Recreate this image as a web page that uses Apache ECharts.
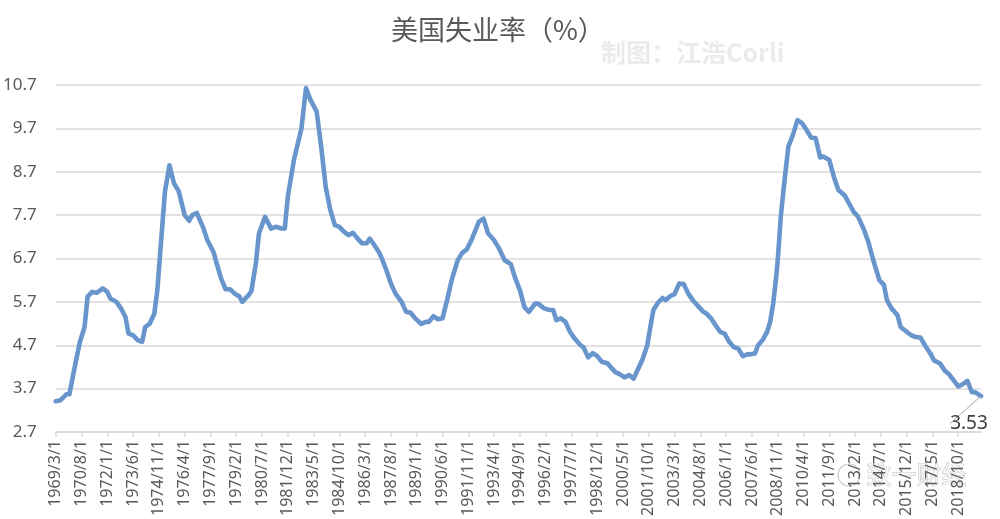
<!DOCTYPE html>
<html>
<head>
<meta charset="utf-8">
<script src="https://cdn.jsdelivr.net/npm/echarts@6/dist/echarts.min.js"></script>
<style>
html,body{margin:0;padding:0;background:#fff;}
#chart{width:1000px;height:519px;}
</style>
</head>
<body>
<div id="chart"></div>
<script>
// ---- data ----
var titleText = '美国失业率（%）';
var creditText = '制图：江浩Corli';
var stampText = '致一财经';

// monthly category axis: 1969/3/1 ... 2020/1/1
var firstYear = 1969, firstMonth = 3, monthCount = 611;

// y tick labels (gridlines every 1 point starting at 2.7)
var yTickLabels = ['2.7','3.7','4.7','5.7','6.7','7.7','8.7','9.7','10.7'];

var dates = [
 '1969/3/1','1969/6/1','1969/10/1','1969/12/1',
 '1970/4/1','1970/7/1','1970/10/1','1970/12/1',
 '1971/3/1','1971/6/1','1971/10/1',
 '1972/1/1','1972/3/1','1972/7/1','1972/10/1',
 '1973/1/1','1973/3/1','1973/6/1','1973/9/1','1973/12/1',
 '1974/2/1','1974/5/1','1974/8/1','1974/10/1','1974/12/1',
 '1975/3/1','1975/6/1','1975/9/1','1975/12/1',
 '1976/4/1','1976/7/1','1976/9/1','1976/12/1',
 '1977/4/1','1977/7/1','1977/11/1',
 '1978/1/1','1978/4/1','1978/7/1','1978/10/1',
 '1979/1/1','1979/4/1','1979/6/1','1979/10/1','1979/12/1',
 '1980/3/1','1980/5/1','1980/9/1',
 '1981/1/1','1981/4/1','1981/8/1','1981/10/1','1981/12/1',
 '1982/4/1','1982/9/1','1982/12/1',
 '1983/3/1','1983/7/1','1983/10/1',
 '1984/1/1','1984/4/1','1984/7/1','1984/10/1',
 '1985/1/1','1985/4/1','1985/7/1','1985/10/1',
 '1986/1/1','1986/4/1','1986/6/1','1986/9/1','1986/12/1',
 '1987/2/1','1987/5/1','1987/8/1','1987/11/1',
 '1988/3/1','1988/6/1','1988/9/1','1988/12/1',
 '1989/4/1','1989/7/1','1989/9/1','1989/12/1',
 '1990/3/1','1990/6/1','1990/9/1','1990/12/1',
 '1991/4/1','1991/7/1','1991/10/1',
 '1992/1/1','1992/6/1','1992/9/1','1992/12/1',
 '1993/4/1','1993/7/1','1993/11/1',
 '1994/3/1','1994/6/1','1994/9/1','1994/12/1',
 '1995/3/1','1995/7/1','1995/9/1',
 '1996/1/1','1996/4/1','1996/7/1','1996/9/1','1996/12/1',
 '1997/3/1','1997/6/1','1997/9/1',
 '1998/1/1','1998/3/1','1998/6/1','1998/9/1','1998/12/1',
 '1999/3/1','1999/7/1','1999/9/1','1999/12/1',
 '2000/3/1','2000/6/1','2000/9/1','2000/12/1',
 '2001/3/1','2001/6/1','2001/9/1','2001/11/1',
 '2002/1/1','2002/4/1','2002/7/1','2002/9/1','2002/12/1',
 '2003/3/1','2003/6/1','2003/9/1','2003/12/1',
 '2004/3/1','2004/6/1','2004/10/1','2004/12/1',
 '2005/3/1','2005/6/1','2005/9/1','2005/12/1',
 '2006/3/1','2006/6/1','2006/9/1','2006/12/1',
 '2007/3/1','2007/5/1','2007/8/1','2007/10/1',
 '2008/1/1','2008/4/1','2008/6/1','2008/8/1','2008/10/1','2008/11/1',
 '2009/1/1','2009/3/1','2009/6/1','2009/9/1','2009/12/1',
 '2010/3/1','2010/6/1','2010/9/1','2010/12/1',
 '2011/3/1','2011/5/1','2011/9/1','2011/12/1',
 '2012/3/1','2012/7/1','2012/10/1',
 '2013/1/1','2013/4/1','2013/8/1','2013/11/1',
 '2014/2/1','2014/6/1','2014/9/1','2014/11/1',
 '2015/2/1','2015/6/1','2015/8/1','2015/12/1',
 '2016/3/1','2016/6/1','2016/9/1','2016/12/1',
 '2017/4/1','2017/6/1','2017/10/1',
 '2018/1/1','2018/4/1','2018/7/1','2018/10/1',
 '2019/1/1','2019/4/1','2019/7/1','2019/9/1','2019/12/1',
 '2020/1/1'
];

var rates = [
 3.41,3.43,3.57,3.57,
 4.28,4.78,5.12,5.82,
 5.93,5.91,6.01,
 5.93,5.78,5.70,5.55,
 5.35,4.97,4.93,4.82,4.78,
 5.12,5.20,5.43,5.97,6.89,
 8.24,8.85,8.43,8.26,
 7.70,7.57,7.70,7.75,
 7.43,7.12,6.85,
 6.60,6.24,5.99,5.99,
 5.89,5.83,5.70,5.85,5.95,
 6.60,7.28,7.66,
 7.39,7.43,7.39,7.39,8.12,
 8.97,9.70,10.63,
 10.35,10.09,9.28,
 8.35,7.82,7.47,7.43,
 7.32,7.24,7.29,7.16,
 7.05,7.05,7.16,7.01,6.85,
 6.70,6.43,6.12,5.89,
 5.70,5.47,5.45,5.32,
 5.19,5.24,5.24,5.37,
 5.30,5.32,5.74,6.20,
 6.66,6.83,6.91,
 7.12,7.55,7.62,7.28,
 7.12,6.95,6.66,
 6.57,6.24,5.97,5.58,
 5.47,5.66,5.66,
 5.55,5.52,5.51,5.28,5.32,
 5.24,5.01,4.86,
 4.70,4.65,4.42,4.52,4.45,
 4.32,4.28,4.19,4.08,
 4.03,3.96,4.01,3.93,
 4.16,4.39,4.70,5.12,
 5.51,5.68,5.79,5.74,5.83,
 5.88,6.12,6.11,5.89,
 5.74,5.62,5.47,5.43,
 5.32,5.16,5.01,4.97,
 4.78,4.66,4.62,4.45,
 4.49,4.49,4.51,4.70,
 4.82,5.01,5.24,5.66,6.28,6.66,
 7.66,8.35,9.28,9.55,9.89,
 9.82,9.66,9.49,9.47,
 9.03,9.05,8.97,8.58,
 8.28,8.16,7.97,
 7.78,7.66,7.35,7.05,
 6.66,6.20,6.09,5.74,
 5.55,5.39,5.12,5.01,
 4.93,4.89,4.88,4.70,
 4.49,4.35,4.28,
 4.12,4.03,3.89,3.75,
 3.80,3.88,3.62,3.62,3.55,
 3.53
];

// ---- build categories ----
var categories = [];
for (var i = 0; i < monthCount; i++) {
  var t = firstMonth - 1 + i;
  categories.push((firstYear + Math.floor(t / 12)) + '/' + (t % 12 + 1) + '/1');
}

var lastIdx = rates.length - 1;
var seriesData = dates.map(function (d, i) {
  var item = { value: [d, rates[i]] };
  if (i === lastIdx) {
    item.label = { show: true };
  }
  return item;
});

var chart = echarts.init(document.getElementById('chart'), null, { renderer: 'canvas' });
var gridColor = '#d9d9d9';
var textColor = '#595959';
var numFont = '"Noto Sans", "Open Sans", sans-serif';

chart.setOption({
  animation: false,
  backgroundColor: '#ffffff',
  title: {
    text: titleText,
    left: 386,
    top: 11,
    textStyle: {
      color: textColor,
      fontSize: 27,
      fontWeight: 'normal',
      fontFamily: '"Noto Sans CJK SC", sans-serif'
    }
  },
  graphic: [
    {
      type: 'text',
      left: 601,
      top: 40,
      style: {
        text: creditText,
        fill: '#ebebeb',
        font: 'bold 25px "Noto Sans CJK SC", sans-serif'
      }
    },
    {
      type: 'circle',
      shape: { cx: 849, cy: 475, r: 11 },
      style: { fill: 'rgba(255,255,255,0.6)', stroke: '#cfcfcf', lineWidth: 1.2 }
    },
    {
      type: 'text',
      left: 866,
      top: 461,
      style: {
        text: stampText,
        fill: 'rgba(255,255,255,0.75)',
        stroke: '#c4c4c4',
        lineWidth: 1,
        font: '25px "Noto Sans CJK SC", sans-serif'
      }
    }
  ],
  grid: { left: 52, right: 19, top: 85, bottom: 87, containLabel: false },
  xAxis: {
    type: 'category',
    data: categories,
    boundaryGap: false,
    axisLine: { show: true, lineStyle: { color: gridColor, width: 1.5 } },
    axisTick: { show: true, interval: 16, length: 5, lineStyle: { color: gridColor, width: 1.5 } },
    axisLabel: {
      interval: 16,
      rotate: 90,
      margin: 8,
      color: textColor,
      fontSize: 16,
      fontFamily: numFont
    },
    splitLine: { show: false }
  },
  yAxis: [
    {
      type: 'value',
      min: 2.7,
      max: 10.7,
      axisLabel: { show: false },
      axisLine: { show: false },
      axisTick: { show: false },
      splitLine: { show: false }
    },
    {
      type: 'value',
      position: 'left',
      min: 0,
      max: yTickLabels.length - 1,
      interval: 1,
      axisLine: { show: false },
      axisTick: { show: false },
      axisLabel: {
        margin: 19,
        color: textColor,
        fontSize: 17,
        fontFamily: numFont,
        formatter: function (v) { return yTickLabels[v]; }
      },
      splitLine: { show: true, lineStyle: { color: gridColor, width: 1.5 } }
    }
  ],
  series: [
    {
      type: 'line',
      yAxisIndex: 0,
      data: seriesData,
      showSymbol: true,
      showAllSymbol: true,
      symbol: 'circle',
      symbolSize: 0,
      smooth: false,
      lineStyle: { color: '#6795cc', width: 4.6, join: 'round', cap: 'round' },
      itemStyle: { color: '#6795cc' },
      label: {
        show: false,
        position: 'bottom',
        color: '#404040',
        fontSize: 19,
        fontFamily: numFont,
        formatter: function (p) { return p.value[1].toFixed(2); }
      },
      labelLayout: { dx: -12, dy: 13 },
      labelLine: { show: true, lineStyle: { color: '#a6a6a6', width: 1 } },
      emphasis: { disabled: true }
    }
  ]
});
</script>
</body>
</html>
